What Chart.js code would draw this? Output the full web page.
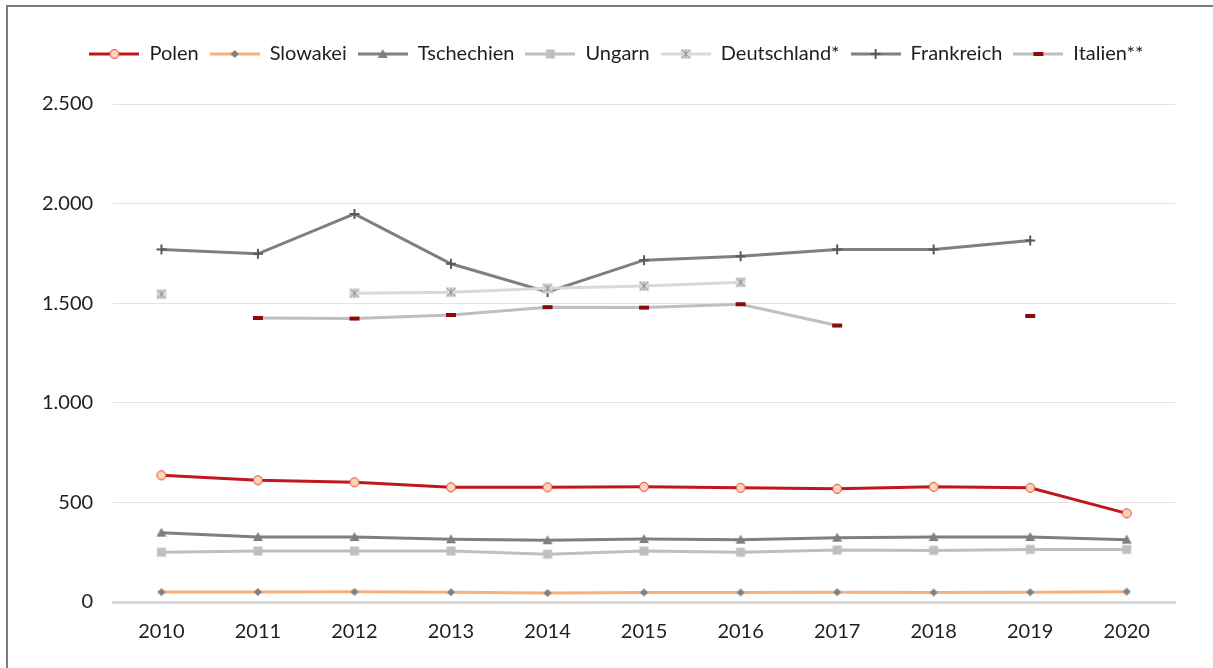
<!DOCTYPE html>
<html>
<head>
<meta charset="utf-8">
<script src="https://cdn.jsdelivr.net/npm/chart.js@4.4.0/dist/chart.umd.min.js"></script>
<style>
  html, body { margin: 0; padding: 0; background: #fff; overflow: hidden; }
  #wrap { position: absolute; left: 0; top: 0; width: 1213px; height: 668px; }
  #frame { position: absolute; left: 6px; top: 5px; width: 1300px; height: 700px; border: 2px solid #7a7a7a; pointer-events: none; }
</style>
</head>
<body>
<div id="wrap"><canvas id="chart"></canvas></div>
<div id="frame"></div>
<script>
const years = ['2010', '2011', '2012', '2013', '2014', '2015', '2016', '2017', '2018', '2019', '2020'];
const polen = [636, 611, 601, 576, 576, 578, 573, 568, 578, 573, 445];
const slowakei = [50, 50, 51, 49, 45, 48, 48, 49, 48, 49, 52];
const tschechien = [348, 326, 326, 315, 310, 316, 313, 323, 326, 326, 313];
const ungarn = [250, 256, 256, 256, 240, 256, 250, 261, 259, 264, 264];
const deutschland = [1545, null, 1550, 1555, 1575, 1586, 1605, null, null, null, null];
const frankreich = [1770, 1748, 1948, 1698, 1556, 1716, 1736, 1770, 1770, 1815, null];
const italien = [null, 1426, 1423, 1441, 1480, 1478, 1495, 1388, null, 1436, null];
const yTicks = [0, 500, 1000, 1500, 2000, 2500];

// little canvas markers, drawn at a center point
function drawMarker(ctx, kind, cx, cy) {
    ctx.save();
    if (kind === 'circle') {
        ctx.beginPath();
        ctx.arc(cx, cy, 4.5, 0, Math.PI * 2);
        ctx.fillStyle = '#fcd5b5';
        ctx.fill();
        ctx.lineWidth = 1;
        ctx.strokeStyle = '#d9403a';
        ctx.stroke();
    } else if (kind === 'diamond') {
        ctx.beginPath();
        ctx.moveTo(cx, cy - 4); ctx.lineTo(cx + 4, cy); ctx.lineTo(cx, cy + 4); ctx.lineTo(cx - 4, cy);
        ctx.closePath();
        ctx.fillStyle = '#7f7f7f';
        ctx.fill();
    } else if (kind === 'triangle') {
        ctx.beginPath();
        ctx.moveTo(cx, cy - 5); ctx.lineTo(cx + 5, cy + 4); ctx.lineTo(cx - 5, cy + 4);
        ctx.closePath();
        ctx.fillStyle = '#7f7f7f';
        ctx.fill();
    } else if (kind === 'square') {
        ctx.fillStyle = '#bfbfbf';
        ctx.fillRect(cx - 4.5, cy - 4.5, 9, 9);
    } else if (kind === 'star') {
        ctx.fillStyle = '#d9d9d9';
        ctx.fillRect(cx - 5, cy - 5, 10, 10);
        ctx.strokeStyle = '#8c8c8c';
        ctx.lineWidth = 1;
        ctx.beginPath();
        ctx.moveTo(cx - 4, cy - 4); ctx.lineTo(cx + 4, cy + 4);
        ctx.moveTo(cx + 4, cy - 4); ctx.lineTo(cx - 4, cy + 4);
        ctx.moveTo(cx, cy - 4); ctx.lineTo(cx, cy + 4);
        ctx.stroke();
    } else if (kind === 'cross') {
        ctx.strokeStyle = '#595959';
        ctx.lineWidth = 2;
        ctx.beginPath();
        ctx.moveTo(cx - 5, cy); ctx.lineTo(cx + 5, cy);
        ctx.moveTo(cx, cy - 5); ctx.lineTo(cx, cy + 5);
        ctx.stroke();
    } else if (kind === 'dash') {
        ctx.fillStyle = '#8b0a0a';
        ctx.fillRect(cx - 5, cy - 2, 10, 4);
    }
    ctx.restore();
}

function markerImage(kind) {
    const c = document.createElement('canvas');
    c.width = 14; c.height = 14;
    drawMarker(c.getContext('2d'), kind, 7, 7);
    return c;
}

function legendIcon(lineColor, kind) {
    const c = document.createElement('canvas');
    c.width = 50; c.height = 14;
    const ctx = c.getContext('2d');
    ctx.strokeStyle = lineColor;
    ctx.lineWidth = 3;
    ctx.beginPath();
    ctx.moveTo(0, 7); ctx.lineTo(50, 7);
    ctx.stroke();
    drawMarker(ctx, kind, 25, 7);
    return c;
}

function fmt(v) {
    return String(v).replace(/\B(?=(\d{3})+(?!\d))/g, '.');
}

const series = [
    { label: 'Polen', data: polen, color: '#c0171d', marker: 'circle' },
    { label: 'Slowakei', data: slowakei, color: '#f8b07c', marker: 'diamond' },
    { label: 'Tschechien', data: tschechien, color: '#7f7f7f', marker: 'triangle' },
    { label: 'Ungarn', data: ungarn, color: '#bfbfbf', marker: 'square' },
    { label: 'Deutschland*', data: deutschland, color: '#d9d9d9', marker: 'star' },
    { label: 'Frankreich', data: frankreich, color: '#7f7f7f', marker: 'cross' },
    { label: 'Italien**', data: italien, color: '#bfbfbf', marker: 'dash' }
];

const datasets = series.map(s => ({
    label: s.label,
    data: s.data,
    borderColor: s.color,
    backgroundColor: s.color,
    borderWidth: 3,
    tension: 0,
    spanGaps: false,
    pointStyle: markerImage(s.marker),
    pointRadius: 6,
    legendIcon: legendIcon(s.color, s.marker)
}));

// push the plot area down below the legend, and nudge the legend right a bit
const legendGap = {
    id: 'legendGap',
    beforeInit(chart) {
        const fit = chart.legend.fit;
        chart.legend.fit = function () {
            fit.call(this);
            this.height += 30;
        };
    },
    afterLayout(chart) {
        chart.legend.left += 18;
        chart.legend.right += 18;
    }
};

const context = document.getElementById('chart').getContext('2d');
new Chart(context, {
    type: 'line',
    data: { labels: years, datasets: datasets },
    plugins: [legendGap],
    options: {
        responsive: true,
        maintainAspectRatio: false,
        animation: false,
        devicePixelRatio: 1,
        layout: { padding: { left: 22, right: 38, top: 33, bottom: 6 } },
        plugins: {
            tooltip: { enabled: false },
            legend: {
                position: 'top',
                labels: {
                    usePointStyle: true,
                    pointStyleWidth: 50,
                    boxHeight: 14,
                    padding: 11,
                    color: '#1e1e1e',
                    font: { family: 'Lato', size: 20 },
                    generateLabels: chart => chart.data.datasets.map((ds, i) => ({
                        text: ds.label,
                        pointStyle: ds.legendIcon,
                        fillStyle: ds.borderColor,
                        strokeStyle: ds.borderColor,
                        lineWidth: 0,
                        hidden: false,
                        datasetIndex: i,
                        fontColor: '#1e1e1e'
                    }))
                }
            }
        },
        scales: {
            x: {
                offset: true,
                grid: { display: false, drawTicks: false, offset: true },
                border: { display: true, color: '#d9d9d9', width: 3 },
                ticks: { color: '#1e1e1e', padding: 18, font: { family: 'Lato', size: 20 } }
            },
            y: {
                min: 0,
                max: 2500,
                afterBuildTicks: axis => { axis.ticks = yTicks.map(v => ({ value: v })); },
                grid: { color: '#e3e3e3', lineWidth: 1, drawTicks: false },
                border: { display: false },
                ticks: {
                    color: '#1e1e1e',
                    padding: 20,
                    font: { family: 'Lato', size: 20 },
                    callback: v => fmt(v)
                }
            }
        }
    }
});
</script>
</body>
</html>
